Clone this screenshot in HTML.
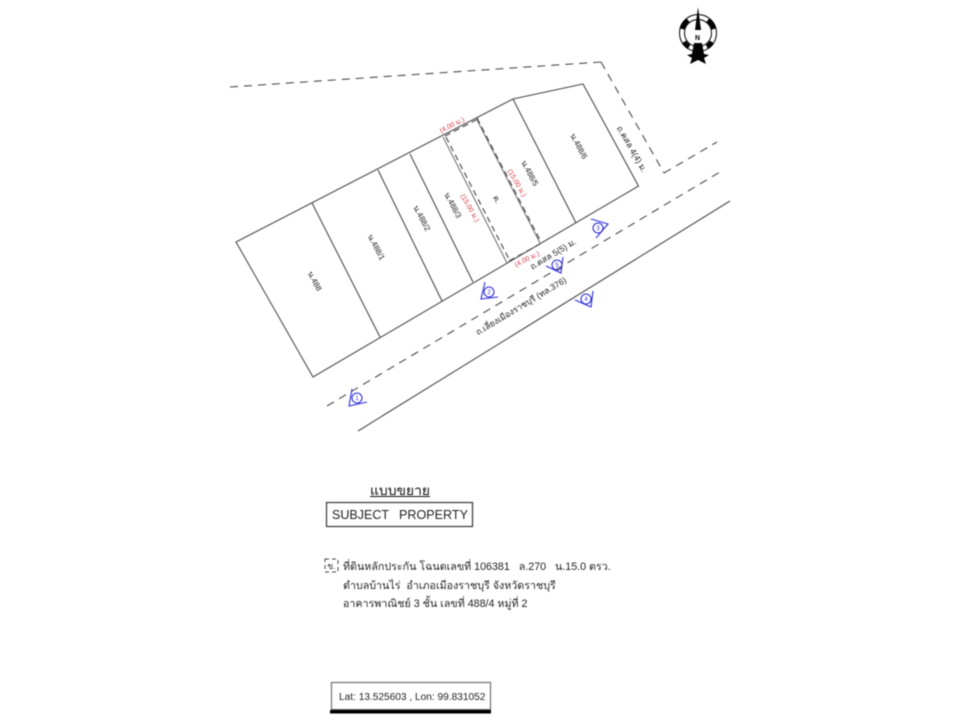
<!DOCTYPE html>
<html lang="th">
<head>
<meta charset="utf-8">
<title>Subject Property</title>
<style>
html,body{margin:0;padding:0;background:#fff;}
svg{display:block;filter:blur(.45px);}
text{font-family:"Liberation Sans","Noto Sans CJK SC",sans-serif;}
.l{fill:none;stroke:#4c4c4c;stroke-width:1.1;}
.d{fill:none;stroke:#4c4c4c;stroke-width:1.1;stroke-dasharray:8 6;}
.p{font-size:8px;fill:#222;text-anchor:middle;}
.q{font-size:8.6px;fill:#222;text-anchor:middle;}
.r{font-size:7px;fill:#d03848;text-anchor:middle;}
.b{fill:none;stroke:#3030d8;stroke-width:1.1;}
.bt{font-size:6px;fill:#3030d8;text-anchor:middle;}
.t{font-size:10.7px;fill:#222;}
</style>
</head>
<body>
<svg width="960" height="720" viewBox="0 0 960 720" xmlns="http://www.w3.org/2000/svg">
<!-- parcels -->
<polygon class="l" points="236,242 513,99 583,84 638.500,186 313,377"/>
<path class="l" d="M312,203L380,337M378,170L442,301M410,154L473,282M513,99L576,223"/>
<!-- subject plot -->
<path fill="none" stroke="#777" stroke-width="1.1" d="M476,118L540,243M443,137L507,263"/>
<path fill="none" stroke="#444" stroke-width="1.1" stroke-dasharray="6 4" d="M477,118L541,242M446,137L510,261M445,136L476,120M509,261L540,244"/>
<!-- roads -->
<path class="d" d="M230,87L601,62"/>
<path class="d" d="M601,62L664,173"/>
<path class="d" d="M664,173L717,142"/>
<line class="d" x1="327" y1="406" x2="720" y2="172"/>
<line class="l" x1="358" y1="431" x2="730" y2="201"/>
<!-- parcel labels -->
<text class="p" transform="translate(312.400,282.400) rotate(62)">น.488</text>
<text class="p" transform="translate(374,248.500) rotate(62)">น.488/1</text>
<text class="p" transform="translate(419.500,219.500) rotate(62)">น.488/2</text>
<text class="p" transform="translate(450.500,206.500) rotate(62)">น.488/3</text>
<text class="p" transform="translate(527.500,174.500) rotate(62)">น.488/5</text>
<text class="p" transform="translate(576.500,147.500) rotate(62)">น.488/6</text>
<text class="p" transform="translate(494.500,200.500) rotate(62)">ต.</text>
<text class="q" transform="translate(629.400,150.500) rotate(60)">ถ.คสล 4(4) ม.</text>
<text class="q" transform="translate(554.500,256.600) rotate(-31)">ถ.คสล 5(5) ม.</text>
<text class="q" transform="translate(522.500,308.600) rotate(-31)">ถ.เลี่ยงเมืองราชบุรี (ทล.376)</text>
<!-- red dimensions -->
<text class="r" transform="translate(453,127) rotate(-27)">(4.00 ม.)</text>
<text class="r" transform="translate(515,184) rotate(60)">(15.00 ม.)</text>
<text class="r" transform="translate(468,209) rotate(60)">(15.00 ม.)</text>
<text class="r" transform="translate(528,261) rotate(-27)">(4.00 ม.)</text>
<!-- view markers -->
<circle class="b" cx="357" cy="398" r="5"/><path class="b" d="M352,389L349,406L367,402"/><text class="bt" x="357" y="400">1</text>
<circle class="b" cx="489" cy="292" r="5"/><path class="b" d="M485,282L481,299L498,297"/><text class="bt" x="489" y="294">2</text>
<circle class="b" cx="598" cy="228" r="5"/><path class="b" d="M591,219L608,224L596,238"/><text class="bt" x="598" y="230">3</text>
<circle class="b" cx="586" cy="299" r="5"/><path class="b" d="M575,300L591,307L593,291"/><text class="bt" x="586" y="301">4</text>
<circle class="b" cx="557" cy="265" r="5"/><path class="b" d="M546,266L561,273L563,257"/><text class="bt" x="557" y="267">5</text>
<!-- north arrow -->
<g>
<circle cx="698" cy="33" r="18.500" fill="none" stroke="#000" stroke-width="1"/>
<circle cx="698" cy="33" r="13.500" fill="none" stroke="#000" stroke-width="1"/>
<path d="M682,29A16,16 0 0 1 688,20" fill="none" stroke="#000" stroke-width="5"/>
<path d="M708,20A16,16 0 0 1 714,29" fill="none" stroke="#000" stroke-width="5"/>
<path d="M684,42A16,16 0 0 0 689,47" fill="none" stroke="#000" stroke-width="5"/>
<path d="M712,42A16,16 0 0 1 707,47" fill="none" stroke="#000" stroke-width="5"/>
<polygon fill="#000" points="698,7 701,30 695,30"/>
<rect x="692" y="30" width="12" height="12" fill="#fff"/>
<polygon fill="#000" points="694,43 702,43 704,54 709,55 704,58 706,64 698,60 690,64 692,58 687,55 692,54"/>
<text x="697.500" y="40" font-size="7" font-weight="bold" fill="#000" text-anchor="middle">N</text>
</g>
<!-- legend -->
<text x="370" y="495" font-size="13.500" fill="#111" textLength="60" lengthAdjust="spacingAndGlyphs">แบบขยาย</text>
<line x1="370" y1="496.500" x2="430" y2="496.500" stroke="#111" stroke-width="1.100"/>
<rect x="326.500" y="502.500" width="146" height="24" fill="#fff" stroke="#444" stroke-width="1.300"/>
<text x="332" y="519" font-size="13" fill="#222" textLength="57" lengthAdjust="spacingAndGlyphs">SUBJECT</text>
<text x="399" y="519" font-size="13" fill="#222" textLength="69" lengthAdjust="spacingAndGlyphs">PROPERTY</text>
<rect x="325" y="559" width="13" height="13" fill="none" stroke="#444" stroke-dasharray="4 3"/>
<text x="331.500" y="569" font-size="8.500" fill="#222" text-anchor="middle">ข.</text>
<text class="t" x="343" y="570" xml:space="preserve">ที่ดินหลักประกัน โฉนดเลขที่ 106381   ล.270   น.15.0 ตรว.</text>
<text class="t" x="343" y="589" xml:space="preserve">ตำบลบ้านไร่  อำเภอเมืองราชบุรี จังหวัดราชบุรี</text>
<text class="t" x="343" y="607">อาคารพาณิชย์ 3 ชั้น เลขที่ 488/4 หมู่ที่ 2</text>
<!-- coordinates -->
<rect x="331.500" y="682.500" width="159" height="27" fill="#fff" stroke="#666" stroke-width="1.100"/>
<rect x="330" y="710" width="161" height="3.500" fill="#000"/>
<text x="339" y="700" font-size="10.150" fill="#222">Lat: 13.525603 , Lon: 99.831052</text>
</svg>
</body>
</html>
